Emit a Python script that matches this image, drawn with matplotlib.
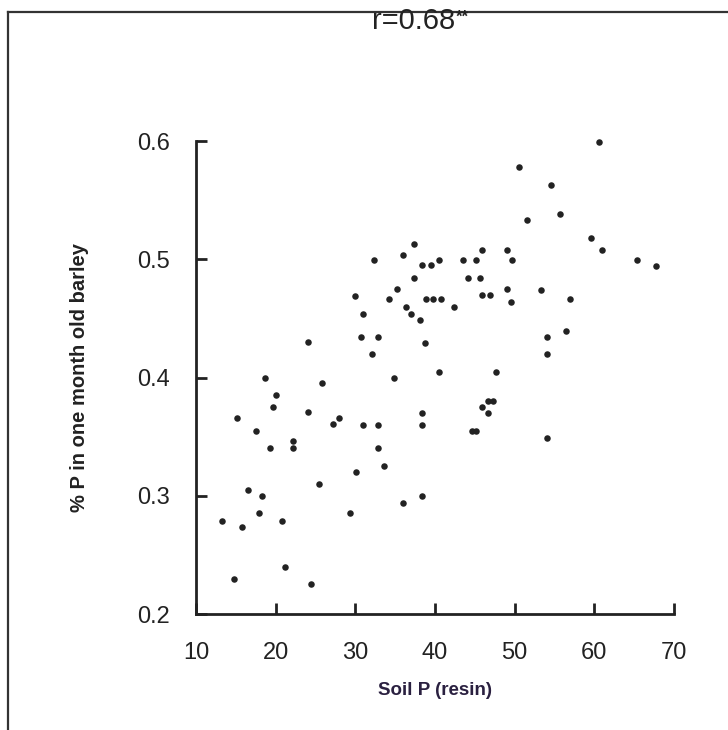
import numpy as np
import matplotlib
matplotlib.use("Agg")
import matplotlib.pyplot as plt
from matplotlib.lines import Line2D

# values
soil_p = [13.3, 14.8, 16.5, 15.8, 17.9, 18.3, 20.8, 21.2, 25.4, 24.4, 29.3, 30.1,
          24.0, 18.7, 25.8, 20.0, 19.7, 24.0, 15.2, 28.0, 27.2, 17.5, 22.2, 22.2, 19.3,
          29.9,
          50.5, 51.5, 37.4, 36.0, 32.4, 40.5, 43.5, 45.2, 49.7, 45.9, 49.0, 38.4, 39.5,
          37.4, 44.1, 45.6, 35.2, 49.0, 45.9, 46.9,
          34.2, 38.9, 39.8, 40.8, 49.5, 36.4, 42.4, 31.0, 37.0, 38.1, 30.7, 32.8, 38.8,
          32.1, 40.5, 47.7, 34.9, 46.6, 47.3, 45.9, 46.6, 38.4, 38.4, 31.0, 32.8, 44.6,
          45.2, 32.8, 33.6,
          36.0, 38.4,
          60.6, 54.6, 55.7, 59.6, 61.0, 65.4, 67.8, 53.3, 56.9,
          56.5, 54.0, 54.0, 54.0]
p_barley = [0.279, 0.230, 0.305, 0.274, 0.285, 0.300, 0.279, 0.240, 0.310, 0.225, 0.285, 0.320,
            0.430, 0.400, 0.395, 0.385, 0.375, 0.371, 0.366, 0.366, 0.361, 0.355, 0.346, 0.340, 0.340,
            0.469,
            0.578, 0.533, 0.513, 0.504, 0.499, 0.499, 0.499, 0.499, 0.499, 0.508, 0.508, 0.495, 0.495,
            0.484, 0.484, 0.484, 0.475, 0.475, 0.470, 0.470,
            0.466, 0.466, 0.466, 0.466, 0.464, 0.460, 0.460, 0.454, 0.454, 0.449, 0.434, 0.434, 0.429,
            0.420, 0.405, 0.405, 0.400, 0.380, 0.380, 0.375, 0.370, 0.370, 0.360, 0.360, 0.360, 0.355,
            0.355, 0.340, 0.325,
            0.294, 0.300,
            0.599, 0.563, 0.538, 0.518, 0.508, 0.499, 0.494, 0.474, 0.466,
            0.439, 0.434, 0.420, 0.349]

x_ticks = [10, 20, 30, 40, 50, 60, 70]
y_ticks = [0.2, 0.3, 0.4, 0.5, 0.6]
y_tick_labels = ["0.2", "0.3", "0.4", "0.5", "0.6"]

fig = plt.figure(figsize=(7.28, 7.30), dpi=100)
ax = fig.add_axes([0.2692, 0.1589, 0.6566, 0.6479])

ax.scatter(soil_p, p_barley, s=22, color="#222222", linewidths=0, clip_on=False)

ax.set_xlim(10, 70)
ax.set_ylim(0.2, 0.6)
ax.set_xticks(x_ticks)
ax.set_yticks(y_ticks)
ax.set_yticklabels(y_tick_labels)

for side in ["top", "right"]:
    ax.spines[side].set_visible(False)
for side in ["left", "bottom"]:
    ax.spines[side].set_linewidth(2)
    ax.spines[side].set_color("#222222")

ax.tick_params(direction="in", length=8, width=2, color="#222222",
               labelsize=17, labelcolor="#222222")
ax.tick_params(axis="x", pad=20)
ax.tick_params(axis="y", pad=19)
for lab in ax.get_xticklabels() + ax.get_yticklabels():
    lab.set_family("Liberation Sans")

ax.set_xlabel("Soil P (resin)", fontsize=13.5, fontweight="bold",
              color="#2a2040", family="Liberation Sans", labelpad=13)
ax.set_ylabel("% P in one month old barley", fontsize=14.5, fontweight="bold",
              color="#222222", family="Liberation Sans", labelpad=34)

fig.text(0.568, 0.971, "r=0.68", ha="center", va="center",
         fontsize=21, color="#222222", family="Liberation Sans")
fig.text(0.626, 0.976, "**", ha="left", va="center",
         fontsize=12, fontweight="bold", color="#222222", family="Liberation Sans")

# scanned page frame
fig.add_artist(Line2D([0.011, 0.011], [0.0, 0.984], transform=fig.transFigure,
                      color="#333333", lw=1.6))
fig.add_artist(Line2D([0.011, 1.0], [0.984, 0.984], transform=fig.transFigure,
                      color="#333333", lw=1.6))

fig.savefig("out.png", dpi=100, facecolor="white")
